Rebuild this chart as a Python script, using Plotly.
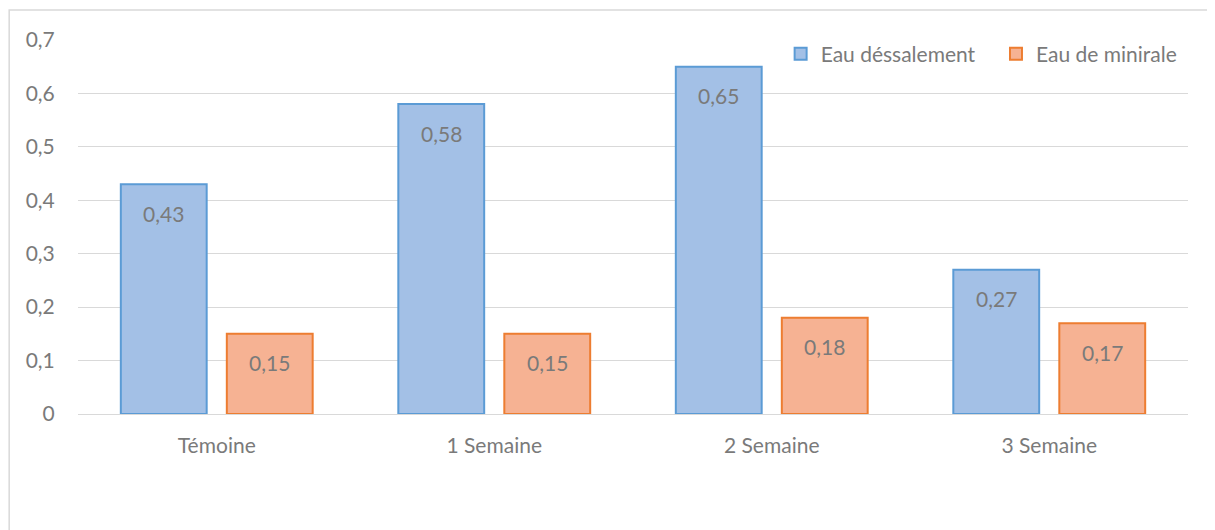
import plotly.graph_objects as go

categories = ["Témoine", "1 Semaine", "2 Semaine", "3 Semaine"]
eau_dessalement = [0.43, 0.58, 0.65, 0.27]
eau_minirale = [0.15, 0.15, 0.18, 0.17]

font_family = "Lato, 'Open Sans', sans-serif"
grey_text = "#7a7a7a"
font_size = 21

# layout constants
plot_w = 1110
bargap = 0.236
bargroupgap = 0.19
slot_px = plot_w / len(categories) * (1 - bargap) / 2

fig = go.Figure()

fig.add_trace(go.Bar(
    x=categories, y=eau_dessalement, name="Eau déssalement",
    marker=dict(color="#a3c0e6", line=dict(color="#5b9bd5", width=2)),
    legend="legend",
))
fig.add_trace(go.Bar(
    x=categories, y=eau_minirale, name="Eau de minirale",
    marker=dict(color="#f6b293", line=dict(color="#ed7d31", width=2)),
    legend="legend2",
))

# value labels, placed under the top of each bar
for vals, shift in [(eau_dessalement, -slot_px / 2), (eau_minirale, slot_px / 2)]:
    for cat, v in zip(categories, vals):
        fig.add_annotation(x=cat, y=v, text=f"{v:.2f}".replace(".", ","),
                           showarrow=False, xshift=shift, yshift=-29,
                           font=dict(size=font_size, color=grey_text, family=font_family))

legend_style = dict(orientation="h", xanchor="left", y=1.017, yanchor="top",
                    font=dict(size=font_size, color=grey_text), bgcolor="rgba(0,0,0,0)",
                    itemwidth=30)

fig.update_layout(
    width=1215, height=530,
    margin=dict(l=70, r=35, t=32, b=124),
    paper_bgcolor="white", plot_bgcolor="white",
    separators=", ",
    barmode="group", bargap=bargap, bargroupgap=bargroupgap,
    font=dict(family=font_family, size=font_size, color=grey_text),
    showlegend=True,
    legend=dict(x=0.633, **legend_style),
    legend2=dict(x=0.827, **legend_style),
)

fig.update_yaxes(range=[0, 0.7], dtick=0.1, showgrid=True, gridcolor="#d9d9d9",
                 gridwidth=1, zeroline=True, zerolinecolor="#d9d9d9", zerolinewidth=1,
                 showline=False, ticks="outside", ticklen=18, tickcolor="rgba(0,0,0,0)",
                 tickfont=dict(size=font_size, color=grey_text))
fig.update_xaxes(showgrid=False, showline=False, ticks="outside", ticklen=13,
                 tickcolor="rgba(0,0,0,0)", tickfont=dict(size=font_size, color=grey_text))

# chart frame
fig.add_shape(type="rect", xref="paper", yref="paper",
              x0=-0.062, x1=1.1, y0=-0.5, y1=1.08,
              line=dict(color="#d9d9d9", width=1.5), fillcolor="rgba(0,0,0,0)",
              layer="below")

fig.write_html("out.html")
